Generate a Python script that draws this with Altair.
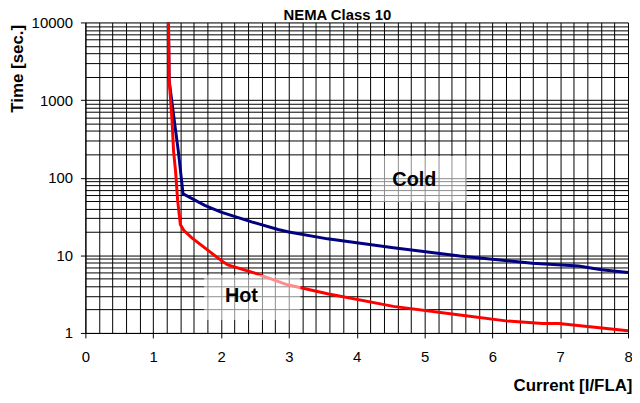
import altair as alt
import pandas as pd

# Cold curve (blue)
cold_x = [1.225, 1.235, 1.29, 1.37, 1.44, 1.76, 2.0, 2.45, 2.84, 3.0, 3.57, 4.54, 5.52, 6.59, 7.27, 7.61, 8.0]
cold_y = [10000, 1800, 750, 220, 62, 44, 36, 27, 21.5, 20, 16.3, 12.5, 9.8, 7.9, 7.3, 6.5, 6.0]
# Hot curve (red)
hot_x = [1.225, 1.235, 1.277, 1.30, 1.33, 1.36, 1.40, 1.45, 1.57, 2.0, 2.1, 2.5, 2.98, 3.57, 4.54, 5.52, 6.2, 6.74, 6.98, 8.0]
hot_y = [10000, 1800, 560, 220, 120, 51, 25, 21, 16.8, 8.6, 7.5, 5.9, 4.17, 3.2, 2.2, 1.7, 1.43, 1.32, 1.32, 1.07]

# annotation labels
ann_text = ["Cold", "Hot"]
ann_x = [4.85, 2.30]
ann_y = [94, 2.97]
ann_x1 = [4.22, 1.75]
ann_x2 = [5.62, 3.17]
ann_y1 = [48.6, 1.47]
ann_y2 = [190, 5.58]

chart_title = ["NEMA Class 10"]

x_grid = [round(i * 0.2, 1) for i in range(41)]
y_grid = [m * 10 ** e for e in range(4) for m in range(1, 10)] + [10000]

FONT = "Liberation Sans"

curves = pd.concat([
    pd.DataFrame({"x": cold_x, "y": cold_y, "s": "Cold", "o": range(len(cold_x))}),
    pd.DataFrame({"x": hot_x, "y": hot_y, "s": "Hot", "o": range(len(hot_x))}),
])
ann = pd.DataFrame({"t": ann_text, "x": ann_x, "y": ann_y, "x1": ann_x1, "x2": ann_x2,
                    "y1": ann_y1, "y2": ann_y2})
ttl = pd.DataFrame({"t": chart_title})

x_is_int = "abs(datum.value - round(datum.value)) < 0.001"
y_is_dec = "indexof([1,10,100,1000,10000], datum.value) >= 0"

xscale = alt.Scale(domain=[0, 8], nice=False, zero=False)
yscale = alt.Scale(type="log", domain=[1, 10000], nice=False)

xaxis = alt.Axis(values=x_grid, tickCount=len(x_grid), grid=True, gridColor="#000000", gridWidth=1,
                 labelExpr=f"{x_is_int} ? format(datum.value, 'd') : ''",
                 tickOpacity={"condition": {"test": x_is_int, "value": 1}, "value": 0},
                 tickSize=5, tickColor="#000000", domainColor="#000000",
                 labelFontSize=15, labelFont=FONT, labelColor="#000000", labelPadding=12,
                 labelFlush=False, labelOverlap=False,
                 title="Current [I/FLA]", titleFont=FONT, titleFontSize=17, titleFontWeight="bold",
                 titleAlign="right", titleAnchor="end", titleX=551, titleY=53, titleBaseline="middle",
                 titleColor="#000000")
yaxis = alt.Axis(values=y_grid, tickCount=len(y_grid), grid=True, gridColor="#000000", gridWidth=1,
                 labelExpr=f"{y_is_dec} ? format(datum.value, 'd') : ''",
                 tickOpacity={"condition": {"test": y_is_dec, "value": 1}, "value": 0},
                 tickSize=5, tickColor="#000000", domainColor="#000000",
                 labelFontSize=15, labelFont=FONT, labelColor="#000000", labelPadding=8,
                 labelFlush=False, labelOverlap=False,
                 title="Time [sec.]", titleFont=FONT, titleFontSize=17, titleFontWeight="bold",
                 titleAngle=-90, titleAlign="right", titleBaseline="middle",
                 titleX=-68, titleY=2, titleColor="#000000")

lines = alt.Chart(curves).mark_line(strokeWidth=3).encode(
    x=alt.X("x:Q", scale=xscale, axis=xaxis),
    y=alt.Y("y:Q", scale=yscale, axis=yaxis),
    color=alt.Color("s:N", scale=alt.Scale(domain=["Cold", "Hot"], range=["#000080", "#FF0000"]), legend=None),
    order="o:Q",
)

boxes = alt.Chart(ann).mark_rect(color="#FFFFFF", opacity=0.55).encode(
    x="x1:Q", x2="x2", y="y1:Q", y2="y2",
)
labels = alt.Chart(ann).mark_text(font=FONT, fontSize=20, fontWeight="bold", color="#000000",
                                  align="center", baseline="middle").encode(
    x="x:Q", y="y:Q", text="t:N",
)
title_mark = alt.Chart(ttl).mark_text(font=FONT, fontSize=15, fontWeight="bold", color="#000000",
                                      align="center", baseline="alphabetic").encode(
    x=alt.value(254), y=alt.value(-2), text="t:N",
)

chart = alt.layer(lines, boxes, labels, title_mark).properties(
    width=547, height=313,
    autosize=alt.AutoSizeParams(type="none"),
    padding={"left": 78, "top": 13, "right": 4, "bottom": 60},
).configure_view(fill="#C0C0C0", stroke="#808080", strokeWidth=1
).configure(background="#FFFFFF")

chart.save("out.html", embed_options={"renderer": "svg", "actions": False})
